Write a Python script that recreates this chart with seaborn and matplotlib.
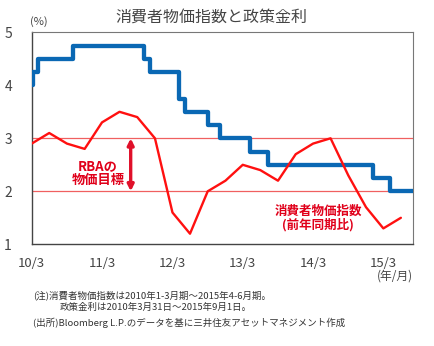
import numpy as np
import pandas as pd
import matplotlib
matplotlib.use("Agg")
import matplotlib.pyplot as plt
import matplotlib.dates as mdates
import seaborn as sns

# ---- data ----
cpi_dates = ["2010-03-31", "2010-06-30", "2010-09-30", "2010-12-31",
             "2011-03-31", "2011-06-30", "2011-09-30", "2011-12-31",
             "2012-03-31", "2012-06-30", "2012-09-30", "2012-12-31",
             "2013-03-31", "2013-06-30", "2013-09-30", "2013-12-31",
             "2014-03-31", "2014-06-30", "2014-09-30", "2014-12-31",
             "2015-03-31", "2015-06-30"]
cpi_values = [2.9, 3.1, 2.9, 2.8, 3.3, 3.5, 3.4, 3.0, 1.6, 1.2, 2.0, 2.2,
              2.5, 2.4, 2.2, 2.7, 2.9, 3.0, 2.3, 1.7, 1.3, 1.5]

rate_dates = ["2010-03-31", "2010-04-07", "2010-05-05", "2010-11-03",
              "2011-11-02", "2011-12-07", "2012-05-02", "2012-06-06",
              "2012-10-03", "2012-12-05", "2013-05-08", "2013-08-07",
              "2015-02-04", "2015-05-06", "2015-09-01"]
rate_values = [4.0, 4.25, 4.5, 4.75, 4.5, 4.25, 3.75, 3.5, 3.25, 3.0,
               2.75, 2.5, 2.25, 2.0, 2.0]

tick_dates = ["2010-03-31", "2011-03-31", "2012-03-31", "2013-03-31",
              "2014-03-31", "2015-03-31"]
tick_labels = ["10/3", "11/3", "12/3", "13/3", "14/3", "15/3"]
target_band = [2, 3]

title = "消費者物価指数と政策金利"
notes = ["(注)消費者物価指数は2010年1-3月期～2015年4-6月期。",
         "政策金利は2010年3月31日～2015年9月1日。",
         "(出所)Bloomberg L.P.のデータを基に三井住友アセットマネジメント作成"]

cpi_df = pd.DataFrame({"date": pd.to_datetime(cpi_dates), "value": cpi_values})
rate_df = pd.DataFrame({"date": pd.to_datetime(rate_dates), "value": rate_values})

sns.set_theme(style="white")
plt.rcParams['font.family'] = ['Noto Sans CJK JP', 'DejaVu Sans']

fig = plt.figure(figsize=(4.35, 3.46), dpi=100)
ax = fig.add_axes([31.7/435, 1 - 244.3/346, (413 - 31.7)/435, (244.3 - 32.3)/346])

# target lines
for yv in target_band:
    ax.axhline(yv, color="#F06060", lw=0.9, zorder=1)

sns.lineplot(data=rate_df, x="date", y="value", ax=ax, color="#0A68B4",
             lw=3.1, drawstyle="steps-post", zorder=3)
sns.lineplot(data=cpi_df, x="date", y="value", ax=ax, color="#FF1010",
             lw=1.7, zorder=4)

ax.set_xlim(pd.Timestamp("2010-03-31"), pd.Timestamp("2015-09-01"))
ax.set_ylim(1, 5)
ax.set_yticks([1, 2, 3, 4, 5])
ax.set_yticklabels(["1", "2", "3", "4", "5"])
ax.set_xticks(pd.to_datetime(tick_dates))
ax.set_xticklabels(tick_labels)
ax.set_xlabel("")
ax.set_ylabel("")

ax.tick_params(axis="x", direction="in", length=4, width=0.8, color="#555555",
               labelsize=9.5, labelcolor="#444444", pad=9)
ax.tick_params(axis="y", length=0, labelsize=10, labelcolor="#444444")
for lab in ax.get_yticklabels():
    lab.set_horizontalalignment("center")
ax.yaxis.set_tick_params(pad=17)

for side in ["left", "bottom"]:
    ax.spines[side].set_color("#444444")
    ax.spines[side].set_linewidth(1.0)
for side in ["top", "right"]:
    ax.spines[side].set_color("#777777")
    ax.spines[side].set_linewidth(0.8)

# arrow for RBA target
arrow_x = pd.Timestamp("2011-08-27")
ax.annotate("", xy=(arrow_x, 2.0), xytext=(arrow_x, 3.0),
            arrowprops=dict(arrowstyle="<|-|>", color="#E0102A", lw=2.4,
                            mutation_scale=9, shrinkA=0, shrinkB=0), zorder=5)
ax.text(pd.Timestamp("2011-03-10"), 2.34, "RBAの\n物価目標", color="#E0001A",
        fontsize=9.5, fontweight="bold", ha="center", va="center", linespacing=0.95)
ax.text(pd.Timestamp("2014-04-26"), 1.49, "消費者物価指数\n(前年同期比)", color="#E0001A",
        fontsize=9, fontweight="bold", ha="center", va="center", linespacing=0.95)

fig.text(211/435, 1 - 17/346, title, fontsize=11.5, color="#444444",
         ha="center", va="center")
fig.text(30/435, 1 - 22/346, "(%)", fontsize=8, color="#444444",
         ha="left", va="center")
fig.text(413/435, 1 - 276/346, "(年/月)", fontsize=8.5, color="#444444",
         ha="right", va="center")

note_y = [295, 307, 323]
note_x = [33, 60, 33]
for t, yy, xx in zip(notes, note_y, note_x):
    fig.text(xx/435, 1 - yy/346, t, fontsize=6.8, color="#333333",
             ha="left", va="center")

fig.savefig("out.png", dpi=100)
